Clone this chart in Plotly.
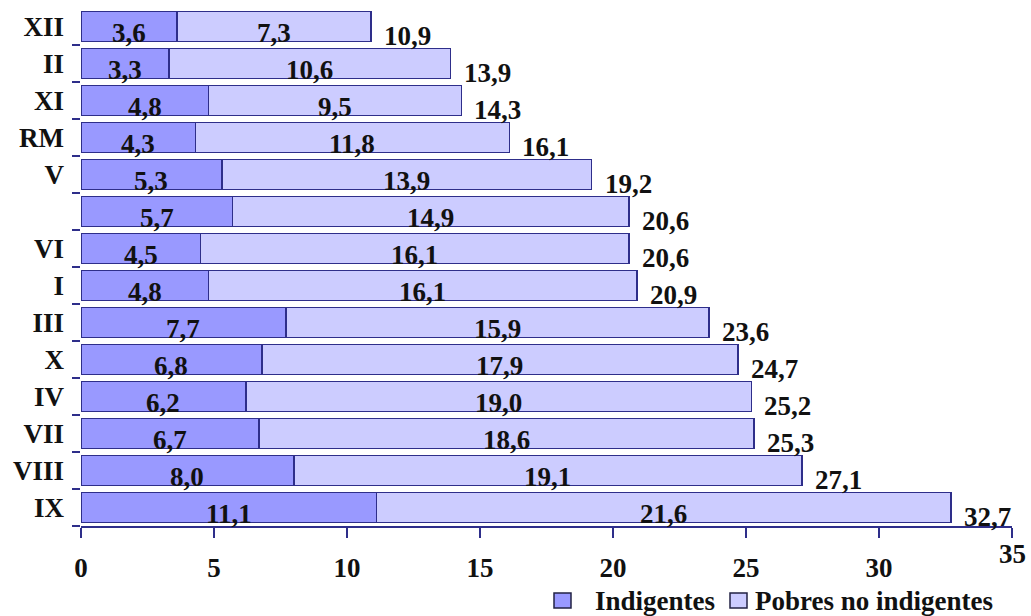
import plotly.graph_objects as go

categories = ["XII", "II", "XI", "RM", "V", "", "VI", "I", "III", "X", "IV", "VII", "VIII", "IX"]
indigentes = [3.6, 3.3, 4.8, 4.3, 5.3, 5.7, 4.5, 4.8, 7.7, 6.8, 6.2, 6.7, 8.0, 11.1]
pobres_no_indigentes = [7.3, 10.6, 9.5, 11.8, 13.9, 14.9, 16.1, 16.1, 15.9, 17.9, 19.0, 18.6, 19.1, 21.6]
totales = [10.9, 13.9, 14.3, 16.1, 19.2, 20.6, 20.6, 20.9, 23.6, 24.7, 25.2, 25.3, 27.1, 32.7]
x_ticks = [0, 5, 10, 15, 20, 25, 30, 35]
series_names = ["Indigentes", "Pobres no indigentes"]
series_colors = ["#9999ff", "#ccccff"]

def fmt(v):
    return f"{v:.1f}".replace(".", ",")

ypos = list(range(len(categories)))
FONT = "Liberation Serif"
EDGE = "#2e2e8a"
FS = 27

fig = go.Figure()
for vals, name, col in zip([indigentes, pobres_no_indigentes], series_names, series_colors):
    fig.add_trace(go.Bar(
        y=ypos, x=vals, orientation="h", name=name,
        marker=dict(color=col, line=dict(color=EDGE, width=1.5)),
        width=0.81, hoverinfo="skip", showlegend=False,
    ))

annotations = []
for i, (a, b, t) in enumerate(zip(indigentes, pobres_no_indigentes, totales)):
    annotations.append(dict(x=a / 2, y=i, text=f"<b>{fmt(a)}</b>", showarrow=False,
                            xanchor="center", yanchor="middle", yshift=-6))
    annotations.append(dict(x=a + b / 2, y=i, text=f"<b>{fmt(b)}</b>", showarrow=False,
                            xanchor="center", yanchor="middle", yshift=-6))
    annotations.append(dict(x=a + b, y=i, text=f"<b>{fmt(t)}</b>", showarrow=False,
                            xanchor="left", yanchor="middle", xshift=11, yshift=-9))

# last x tick label drawn slightly raised, as in the original
annotations.append(dict(x=x_ticks[-1], y=0, yref="paper", text=f"<b>{x_ticks[-1]}</b>",
                        showarrow=False, xanchor="center", yanchor="middle", yshift=-28,
                        font=dict(size=FS)))

# manual legend (plot area: x 81..1012 px, y 8..526 px)
def px_x(p):
    return (p - 81) / 931.0

def px_y(p):
    return (526 - p) / 518.0

shapes = []
legend_boxes = [(554, 571), (730, 747)]
legend_text_x = [593, 753]
for (x0, x1), tx, name, col in zip(legend_boxes, legend_text_x, series_names, series_colors):
    shapes.append(dict(type="rect", xref="paper", yref="paper",
                       x0=px_x(x0), x1=px_x(x1), y0=px_y(608), y1=px_y(593),
                       fillcolor=col, line=dict(color="#222244", width=1.5)))
    annotations.append(dict(x=px_x(tx), y=px_y(601), xref="paper", yref="paper",
                            text=f"<b>{name}</b>", showarrow=False, xanchor="left",
                            yanchor="middle", font=dict(size=FS)))

fig.update_layout(
    width=1031, height=616,
    margin=dict(l=81, r=19, t=8, b=90),
    barmode="stack",
    bargap=0.19,
    plot_bgcolor="white", paper_bgcolor="white",
    font=dict(family=FONT, size=FS, color="#111111"),
    annotations=annotations,
    shapes=shapes,
    showlegend=False,
    xaxis=dict(range=[0, 35], tickvals=x_ticks,
               ticktext=[f"<b>{v}</b>" if v != x_ticks[-1] else "" for v in x_ticks],
               showgrid=False, zeroline=False, showline=True, linecolor=EDGE, linewidth=1.5,
               ticks="outside", ticklen=10, tickcolor=EDGE, tickwidth=1.5,
               ticklabelstandoff=7, tickfont=dict(size=FS)),
    yaxis=dict(range=[len(categories) - 0.5, -0.5], tickvals=ypos,
               ticktext=[f"<b>{c}</b>" if c else "" for c in categories],
               showgrid=False, zeroline=False, showline=False, ticks="",
               ticklabelstandoff=16, tickfont=dict(size=FS),
               minor=dict(tickvals=[i + 0.5 for i in ypos], ticks="outside", ticklen=8,
                          tickcolor=EDGE, tickwidth=1.5)),
)

fig.write_html("out.html")
